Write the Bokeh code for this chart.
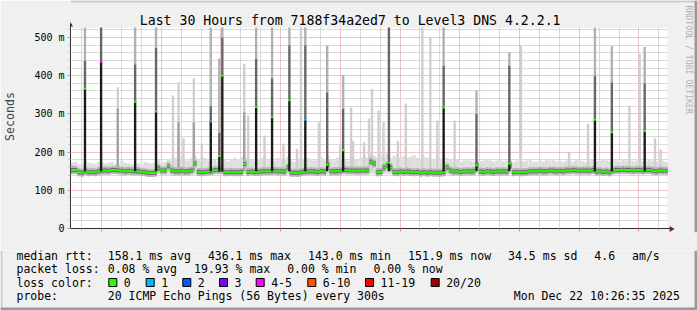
import numpy as np
from bokeh.plotting import figure
from bokeh.layouts import column
from bokeh.models import FixedTicker
from bokeh.core.properties import value
from bokeh.embed import file_html
from bokeh.resources import INLINE

MONO = "DejaVu Sans Mono"

# ---------------- data ----------------
title_text = "Last 30 Hours from 7188f34a2ed7 to Level3 DNS 4.2.2.1"
credit_text = "RRDTOOL / TOBI OETIKER"
end_hour = 34 + 26 / 60 + 35 / 3600      # Mon 10:26:35, hours since Sun 00:00
span_hours = 30
start_hour = end_hour - span_hours
y_upper = 526.2                            # ms, top of the graph

x_label_hours = [6, 12, 18, 24, 30]
x_labels = ["Sun 06:00", "Sun 12:00", "Sun 18:00", "Mon 00:00", "Mon 06:00"]
y_label_values = [0, 100, 200, 300, 400, 500]
y_labels = ["0", "100 m", "200 m", "300 m", "400 m", "500 m"]

# baseline, 10-minute bins
bin_start = 4.45
bin_hours = 1 / 6
median_ms = [
    153, 153, 147, 146, 150, 147, 148, 147, 150, 151,
    152, 151, 153, 153, 152, 151, 150, 151, 150, 150,
    150, 148, 147, 145, 145, 146, 158, 152, 152, 163,
    152, 150, 150, 151, 149, 150, 152, 170, 148, 147,
    148, 149, 150, 153, 153, 153, 147, 147, 148, 147,
    147, 148, 169, 148, 149, 148, 148, 149, 150, 150,
    150, 151, 150, 150, 149, 160, 146, 146, 145, 147,
    149, 149, 150, 149, 148, 150, 149, 167, 150, 150,
    150, 151, 153, 152, 152, 152, 151, 152, 152, 152,
    175, 170, 147, 148, 160, 165, 160, 148, 147, 149,
    148, 149, 148, 147, 148, 146, 147, 146, 147, 146,
    146, 146, 147, 160, 152, 149, 150, 148, 149, 150,
    149, 150, 165, 149, 148, 150, 149, 148, 150, 149,
    150, 149, 165, 147, 148, 147, 147, 148, 150, 150,
    150, 151, 150, 150, 152, 151, 150, 151, 150, 152,
    152, 153, 152, 151, 152, 152, 151, 153, 149, 150,
    148, 149, 147, 152, 153, 153, 154, 153, 153, 152,
    153, 153, 152, 153, 153, 151, 150, 152, 151, 151,
]
smoke_hi_ms = [
    172, 175, 168, 170, 178, 172, 170, 168, 175, 172,
    170, 172, 175, 170, 168, 178, 172, 170, 168, 172,
    170, 168, 175, 172, 170, 175, 180, 172, 175, 182,
    178, 185, 180, 190, 182, 178, 185, 190, 180, 175,
    185, 178, 182, 180, 175, 178, 180, 176, 182, 185,
    180, 188, 190, 185, 182, 178, 180, 185, 190, 182,
    180, 178, 185, 182, 180, 188, 178, 175, 180, 185,
    180, 185, 182, 178, 180, 188, 182, 190, 180, 178,
    185, 182, 180, 178, 185, 180, 182, 185, 190, 185,
    195, 190, 185, 192, 188, 195, 185, 190, 188, 185,
    190, 185, 188, 192, 185, 180, 188, 185, 182, 180,
    185, 180, 178, 185, 182, 178, 180, 175, 178, 180,
    178, 175, 180, 176, 178, 182, 178, 175, 178, 180,
    176, 178, 180, 175, 178, 182, 176, 178, 180, 175,
    175, 178, 176, 180, 178, 182, 176, 178, 175, 178,
    178, 175, 180, 178, 176, 175, 178, 180, 176, 178,
    180, 178, 176, 182, 178, 175, 180, 178, 182, 176,
    178, 180, 176, 178, 182, 178, 176, 180, 178, 175,
]
smoke_lo_ms = 142

# high-latency steps (median raised and/or dense smoke)
spike_hour = [5.17, 5.98, 7.69, 8.74, 11.49, 11.92, 12.07, 13.77, 14.57, 15.44,
              16.24, 17.34, 18.14, 20.44, 23.19, 24.84, 26.49, 30.79, 31.64, 33.29]
spike_median = [366, 436, 332, 306, 280, 190, 400, 318, 291, 336,
                285, 167, 205, 172, 317, 165, 170, 285, 252, 255]
spike_upper_q = [440, 530, 430, 474, 320, 250, 500, 445, 393, 480,
                 480, 357, 314, 530, 427, 300, 427, 400, 383, 380]
spike_max = [530, 530, 530, 530, 530, 445, 530, 530, 530, 530,
             530, 479, 402, 530, 530, 361, 461, 530, 477, 475]
spike_loss = [0, 4, 0, 0, 1, 0, 0, 0, 0, 0, 1, 0, 0, 0, 0, 0, 0, 0, 0, 0]

# sparse outlier pings (light smoke only)
light_hour = [6.82, 9.59, 9.87, 10.12, 10.64, 11.04, 13.17, 13.37, 14.19, 15.14,
              15.82, 16.02, 16.92, 17.99, 18.54, 18.64, 19.19, 19.44, 19.59, 19.92,
              20.17, 20.89, 21.29, 22.12, 22.52, 22.87, 23.74, 27.07, 29.49, 30.44,
              32.52, 33.04, 33.81, 34.09]
light_max = [370, 348, 383, 236, 393, 222, 431, 296, 243, 222,
             209, 530, 278, 217, 317, 230, 226, 288, 366, 309,
             278, 230, 327, 530, 500, 283, 283, 479, 200, 274,
             322, 457, 236, 207]
light_mid = [314, 0, 278, 0, 278, 0, 304, 0, 0, 0,
             0, 0, 0, 0, 0, 0, 0, 0, 0, 0,
             0, 0, 0, 0, 0, 0, 0, 0, 0, 0,
             0, 0, 0, 0]

loss_labels = ["0", "1", "2", "3", "4-5", "6-10", "11-19", "20/20"]
loss_colors = ["#26ff00", "#00b8ff", "#0059ff", "#7e00ff", "#ff00ff", "#ff5500", "#ff0000", "#a10000"]

rtt_title = "median rtt:"
rtt_items = ["158.1 ms avg", "436.1 ms max", "143.0 ms min", "151.9 ms now",
             "34.5 ms sd", "4.6", "am/s"]
loss_title = "packet loss:"
loss_items = ["0.08 % avg", "19.93 % max", "0.00 % min", "0.00 % now"]
loss_color_title = "loss color:"
probe_title = "probe:"
probe_text = "20 ICMP Echo Pings (56 Bytes) every 300s"
stamp_text = "Mon Dec 22 10:26:35 2025"

# ---------------- geometry (pixels) ----------------
W, H = 697, 310
L = 67            # canvas left (y axis)
Y0 = 228          # y of value 0
PX_H = 20.0       # px per hour
PX_MS = 0.382     # px per ms
TOP_H = 250       # height of upper figure
BOT_AX = 18       # x-axis panel height
FRAME_B = TOP_H - BOT_AX   # frame bottom in px
BG = "#f0f0f0"
SHADE_A = "#cbcbcb"
SHADE_B = "#999999"
AXIS = "#303030"
ARROW = "#8a1c1c"
LEG_FS = 11.5                 # legend font size, px
CH = LEG_FS * 0.602           # monospace advance
GAP = 17                      # space between legend items
TAB = 107.3                   # legend tab stop
LEFT = 16


def hx(X):
    """canvas px -> hours"""
    return start_hour + (X - L) / PX_H


def vy(Y):
    """canvas px -> ms"""
    return (Y0 - Y) / PX_MS


p = figure(width=W, height=TOP_H, x_range=(hx(L), hx(W)), y_range=(vy(FRAME_B), vy(0)),
           output_backend="svg", toolbar_location=None, title=None,
           min_border_left=L, min_border_right=0, min_border_top=0, min_border_bottom=BOT_AX)
p.frame_align = False
p.background_fill_color = BG
p.border_fill_color = BG
p.outline_line_color = None

# ticks / grid
x_major = list(range(int(np.ceil(start_hour / 3)) * 3, int(end_hour) + 1, 3))
x_minor = [h for h in range(int(np.ceil(start_hour)), int(end_hour) + 1) if h % 3 != 0]
y_minor = [v for v in range(20, int(y_upper), 20) if v % 100 != 0]
p.xaxis.ticker = FixedTicker(ticks=x_major, minor_ticks=x_minor)
p.yaxis.ticker = FixedTicker(ticks=y_label_values, minor_ticks=y_minor)
xo = {h: "" for h in x_major}
xo.update({h: lab for h, lab in zip(x_label_hours, x_labels)})
p.xaxis.major_label_overrides = xo
p.yaxis.major_label_overrides = {v: lab for v, lab in zip(y_label_values, y_labels)}
p.xaxis.fixed_location = 0
p.xaxis.bounds = (start_hour, hx(670))
p.yaxis.bounds = (0, vy(23))

MGRID = "#e08a8a"
GRID = "#b4b4b4"
for g in (p.xgrid, p.ygrid):
    g.grid_line_color = MGRID
    g.grid_line_dash = "1 1"
    g.minor_grid_line_color = GRID
    g.minor_grid_line_dash = "1 1"

for ax in (p.xaxis, p.yaxis):
    ax.axis_line_color = AXIS
    ax.major_tick_line_color = MGRID
    ax.major_tick_out = 3
    ax.major_tick_in = 0
    ax.minor_tick_line_color = GRID
    ax.minor_tick_out = 2
    ax.minor_tick_in = 0
    ax.major_label_text_font = MONO
    ax.major_label_text_font_size = "10px"
    ax.major_label_text_color = "black"
p.xaxis.major_label_standoff = 1
p.yaxis.major_label_standoff = 3
p.yaxis.axis_label = "Seconds"
p.yaxis.axis_label_text_font = MONO
p.yaxis.axis_label_text_font_size = "11.6px"
p.yaxis.axis_label_text_font_style = "normal"
p.yaxis.axis_label_standoff = 14

# white graph canvas (below the grid)
p.quad(left=start_hour, right=end_hour, bottom=0, top=y_upper,
       fill_color="white", line_color=None, level="image")
# hide grid lines outside the graph canvas
x_lo, x_hi = hx(L), hx(W)
y_lo, y_hi = vy(FRAME_B), vy(0)
p.quad(left=[end_hour, x_lo, x_lo], right=[x_hi, x_hi, x_hi],
       bottom=[y_lo, y_upper, y_lo], top=[y_hi, y_hi, 0],
       fill_color=BG, line_color=None)

# ---------------- smoke + median ----------------
med = np.array(median_ms, dtype=float)
centers = bin_start + (np.arange(len(med)) + 0.5) * bin_hours
shi = np.array(smoke_hi_ms, dtype=float)

p.vbar(x=centers, width=bin_hours, bottom=smoke_lo_ms, top=shi,
       fill_color="#dedede", line_color=None)

SW = 0.12
lh = np.array(light_hour)
lmax = np.minimum(np.array(light_max, dtype=float), y_upper)
lmid = np.array(light_mid, dtype=float)
p.vbar(x=lh, width=SW, bottom=150, top=lmax, fill_color="#cfcfcf", line_color=None)
has_mid = lmid > 0
p.vbar(x=lh[has_mid], width=SW, bottom=150, top=lmid[has_mid], fill_color="#a2a2a2", line_color=None)

p.rect(x=centers, y=med, width=bin_hours, height=8, height_units="screen",
       fill_color="#b4b4b4", line_color=None)
p.rect(x=centers, y=med, width=bin_hours, height=4, height_units="screen",
       fill_color="#6a6a6a", line_color=None)
p.rect(x=centers, y=med, width=bin_hours, height=2, height_units="screen",
       fill_color=loss_colors[0], line_color=None)

sh = np.array(spike_hour)
smed = np.array(spike_median, dtype=float)
sq = np.minimum(np.array(spike_upper_q, dtype=float), y_upper)
smax = np.minimum(np.array(spike_max, dtype=float), y_upper)
p.vbar(x=sh, width=SW, bottom=150, top=smed, fill_color="#1c1c1c", line_color=None)
p.vbar(x=sh, width=SW, bottom=smed, top=sq, fill_color="#666666", line_color=None)
up = sq < smax
p.vbar(x=sh[up], width=SW, bottom=sq[up], top=smax[up], fill_color="#b0b0b0", line_color=None)
p.rect(x=sh, y=smed, width=SW, height=2, height_units="screen",
       fill_color=[loss_colors[i] for i in spike_loss], line_color=None)

# ---------------- decorations inside the upper figure ----------------
p.patches(xs=[[hx(66.5), hx(63.5), hx(69.5)], [hx(674), hx(669), hx(669)]],
          ys=[[vy(20.5), vy(26), vy(26)], [vy(228.5), vy(225.5), vy(231.5)]],
          fill_color=ARROW, line_color=None)
p.text(x=[hx(348)], y=[vy(19.5)], text=[title_text], text_font=value(MONO),
       text_font_size=value("13.2px"), text_align="center", text_baseline="middle",
       text_color="black")
p.text(x=[hx(688)], y=[vy(5)], text=[credit_text], text_font=value(MONO),
       text_font_size=value("8.2px"), text_align="left", text_baseline="middle",
       text_color="#b0b0b0", angle=-np.pi / 2)
p.quad(left=[x_lo, hx(W - 3)], right=[x_hi, x_hi], bottom=[vy(2), y_lo], top=[y_hi, y_hi],
       fill_color=[SHADE_A, SHADE_B], line_color=None)

# ---------------- legend figure ----------------
q = figure(width=W, height=H - TOP_H, x_range=(0, W), y_range=(H, TOP_H),
           output_backend="svg", toolbar_location=None, title=None,
           x_axis_type=None, y_axis_type=None,
           min_border_left=0, min_border_right=0, min_border_top=0, min_border_bottom=0)
q.frame_align = False
q.background_fill_color = BG
q.border_fill_color = BG
q.outline_line_color = None
q.grid.visible = False

rows_y = [255, 268.5, 282, 295.5]
tx, ty, tt = [], [], []


def put(X, Y, s):
    tx.append(X); ty.append(Y); tt.append(s)


def flow(items, Y):
    X = TAB
    for s in items:
        put(X, Y, s)
        X += len(s) * CH + GAP


put(LEFT, rows_y[0], rtt_title)
flow(rtt_items, rows_y[0])
put(LEFT, rows_y[1], loss_title)
flow(loss_items, rows_y[1])
put(LEFT, rows_y[2], loss_color_title)
sw_x = [108.3, 145.7, 182.3, 219, 255.7, 307.3, 365, 430.7]
for X, s in zip(sw_x, loss_labels):
    put(X + 15, rows_y[2], s)
put(LEFT, rows_y[3], probe_title)
put(TAB, rows_y[3], probe_text)
put(513.3, rows_y[3], stamp_text)
q.text(x=tx, y=ty, text=tt, text_font=value(MONO), text_font_size=value(f"{LEG_FS}px"),
       text_align="left", text_baseline="middle", text_color="black")
q.rect(x=[X + 4 for X in sw_x], y=rows_y[2], width=8, height=8,
       fill_color=loss_colors, line_color="black", line_width=1)
q.quad(left=[0, W - 3, 0], right=[2, W, W], top=[TOP_H, TOP_H, H - 3], bottom=[H, H, H],
       fill_color=[SHADE_A, SHADE_B, SHADE_B], line_color=None)

layout = column(p, q, spacing=0)
open("out.html", "w").write(file_html(layout, INLINE))
